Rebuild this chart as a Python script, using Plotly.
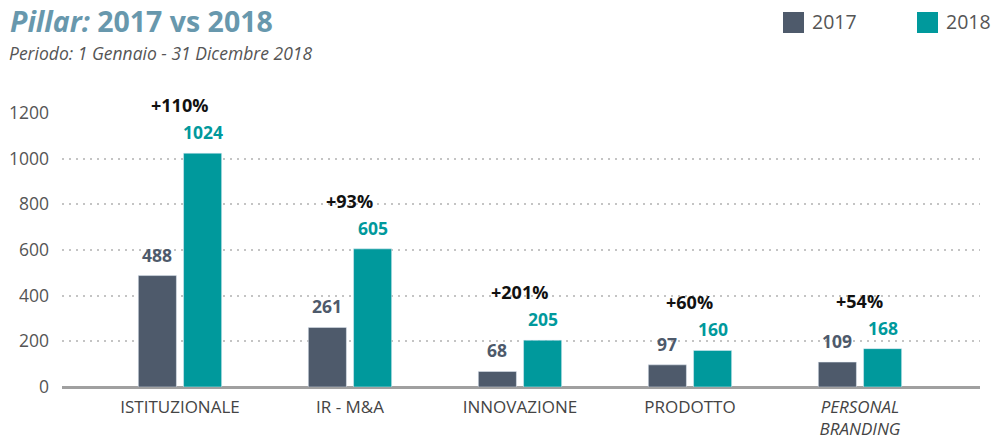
import plotly.graph_objects as go

# Data
categories = ["ISTITUZIONALE", "IR - M&A", "INNOVAZIONE", "PRODOTTO", "<i>PERSONAL<br>BRANDING</i>"]
values_2017 = [488, 261, 68, 97, 109]
values_2018 = [1024, 605, 205, 160, 168]
growth_labels = ["+110%", "+93%", "+201%", "+60%", "+54%"]
y_ticks = [0, 200, 400, 600, 800, 1000, 1200]

C17 = "#4e5a6b"
C18 = "#00999c"
FONT = "Open Sans"

W, H = 994, 441
L, R, T, B = 62, 14, 113, 54
pw, ph = W - L - R, H - T - B


def px_to_paper_x(px):
    return (px - L) / pw


def px_to_paper_y(py):
    return (H - B - py) / ph


x = list(range(len(categories)))
fig = go.Figure()
fig.add_trace(go.Bar(x=x, y=values_2017, width=0.224, offset=-0.245,
                     marker_color=C17, name="2017", showlegend=False))
fig.add_trace(go.Bar(x=x, y=values_2018, width=0.224, offset=0.021,
                     marker_color=C18, name="2018", showlegend=False))

# value labels above bars and growth labels above each group
for i in x:
    fig.add_annotation(x=i - 0.133, y=values_2017[i], text=f"<b>{values_2017[i]}</b>",
                       showarrow=False, yanchor="middle", yshift=21,
                       font=dict(family=FONT, size=17.5, color=C17))
    fig.add_annotation(x=i + 0.133, y=values_2018[i], text=f"<b>{values_2018[i]}</b>",
                       showarrow=False, yanchor="middle", yshift=21,
                       font=dict(family=FONT, size=17.5, color=C18))
    fig.add_annotation(x=i, y=values_2018[i], text=f"<b>{growth_labels[i]}</b>",
                       showarrow=False, yanchor="middle", yshift=48,
                       font=dict(family=FONT, size=18, color="#111111"))

# title and subtitle
fig.add_annotation(xref="paper", yref="paper", x=px_to_paper_x(8), y=px_to_paper_y(21),
                   xanchor="left", yanchor="middle", showarrow=False,
                   text="<b><i>Pillar:</i> 2017 vs 2018</b>",
                   font=dict(family=FONT, size=28.5, color="#6898ad"))
fig.add_annotation(xref="paper", yref="paper", x=px_to_paper_x(7), y=px_to_paper_y(53),
                   xanchor="left", yanchor="middle", showarrow=False,
                   text="<i>Periodo: 1 Gennaio - 31 Dicembre 2018</i>",
                   font=dict(family=FONT, size=17.5, color="#555555"))

# legend drawn as boxes + labels
legend_items = [("2017", C17, 783), ("2018", C18, 917)]
for label, color, x0 in legend_items:
    fig.add_shape(type="rect", xref="paper", yref="paper",
                  x0=px_to_paper_x(x0), x1=px_to_paper_x(x0 + 21),
                  y0=px_to_paper_y(33), y1=px_to_paper_y(12),
                  fillcolor=color, line_width=0)
    fig.add_annotation(xref="paper", yref="paper", x=px_to_paper_x(x0 + 27), y=px_to_paper_y(22),
                       xanchor="left", yanchor="middle", showarrow=False, text=label,
                       font=dict(family=FONT, size=19.5, color="#555555"))

fig.update_layout(
    width=W, height=H,
    margin=dict(l=L, r=R, t=T, b=B, pad=0, autoexpand=False),
    paper_bgcolor="white", plot_bgcolor="white",
    barmode="overlay",
    font=dict(family=FONT),
    xaxis=dict(range=[-0.694, 4.706], tickmode="array", tickvals=x, ticktext=categories,
               showgrid=False, showline=False, zeroline=False, ticks="",
               ticklabelstandoff=8, automargin=False,
               tickfont=dict(family=FONT, size=17, color="#444444")),
    yaxis=dict(range=[0, 1200], tickvals=y_ticks, showgrid=True,
               gridcolor="#c4c4c4", griddash="2px,5px", gridwidth=1.5,
               zeroline=True, zerolinecolor="#a0a0a0", zerolinewidth=2.5,
               showline=False, ticks="", ticklabelstandoff=12, automargin=False,
               tickfont=dict(family=FONT, size=17.5, color="#555555")),
)

fig.write_html("out.html")
